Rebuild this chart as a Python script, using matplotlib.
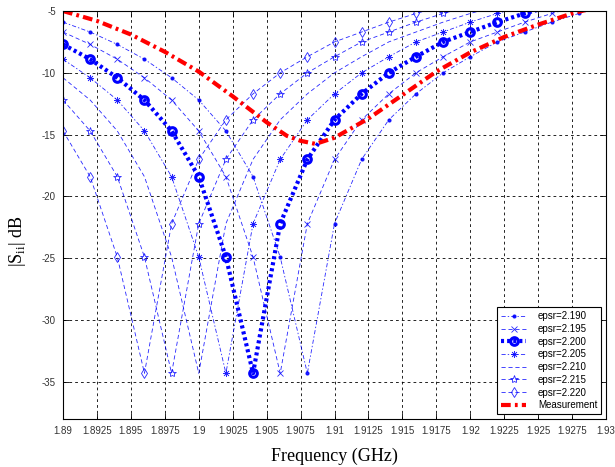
import matplotlib
matplotlib.use("Agg")
import matplotlib.pyplot as plt

# frequency grid of the simulations (GHz)
freq = [1.890, 1.892, 1.894, 1.896, 1.898, 1.900, 1.902, 1.904, 1.906, 1.908, 1.910,
        1.912, 1.914, 1.916, 1.918, 1.920, 1.922, 1.924, 1.926, 1.928, 1.930]

# simulated |S11| in dB for each epsr
s_2190 = [-5.9, -6.7, -7.7, -8.9, -10.4, -12.2, -14.7, -18.4, -24.9, -34.3, -22.2,
          -17.0, -13.8, -11.7, -10.0, -8.7, -7.5, -6.7, -5.9, -5.2, -4.6]
s_2195 = [-6.7, -7.7, -8.9, -10.4, -12.2, -14.7, -18.4, -24.9, -34.3, -22.2, -17.0,
          -13.8, -11.7, -10.0, -8.7, -7.5, -6.7, -5.9, -5.2, -4.6, -4.1]
s_2200 = [-7.7, -8.9, -10.4, -12.2, -14.7, -18.4, -24.9, -34.3, -22.2, -17.0, -13.8,
          -11.7, -10.0, -8.7, -7.5, -6.7, -5.9, -5.2, -4.6, -4.1, -3.6]
s_2205 = [-8.9, -10.4, -12.2, -14.7, -18.4, -24.9, -34.3, -22.2, -17.0, -13.8, -11.7,
          -10.0, -8.7, -7.5, -6.7, -5.9, -5.2, -4.6, -4.1, -3.6, -3.2]
s_2210 = [-10.4, -12.2, -14.7, -18.4, -24.9, -34.3, -22.2, -17.0, -13.8, -11.7, -10.0,
          -8.7, -7.5, -6.7, -5.9, -5.2, -4.6, -4.1, -3.6, -3.2, -2.8]
s_2215 = [-12.2, -14.7, -18.4, -24.9, -34.3, -22.2, -17.0, -13.8, -11.7, -10.0, -8.7,
          -7.5, -6.7, -5.9, -5.2, -4.6, -4.1, -3.6, -3.2, -2.8, -2.5]
s_2220 = [-14.7, -18.4, -24.9, -34.3, -22.2, -17.0, -13.8, -11.7, -10.0, -8.7, -7.5,
          -6.7, -5.9, -5.2, -4.6, -4.1, -3.6, -3.2, -2.8, -2.5, -2.2]

# measured curve
meas_f = [1.8900, 1.8925, 1.8950, 1.8975, 1.9000, 1.9025, 1.9050, 1.9065, 1.9075,
          1.9086, 1.9100, 1.9125, 1.9150, 1.9175, 1.9200, 1.9225, 1.9250, 1.9275, 1.9300]
meas_db = [-5.0, -5.8, -6.9, -8.3, -9.9, -11.9, -14.0, -15.1, -15.5,
           -15.75, -15.25, -13.7, -11.8, -9.9, -8.35, -7.1, -6.1, -5.2, -4.5]

xtick_vals = [1.89, 1.8925, 1.895, 1.8975, 1.9, 1.9025, 1.905, 1.9075, 1.91,
              1.9125, 1.915, 1.9175, 1.92, 1.9225, 1.925, 1.9275, 1.93]
xtick_labels = ['1.89', '1.8925', '1.895', '1.8975', '1.9', '1.9025', '1.905', '1.9075', '1.91',
                '1.9125', '1.915', '1.9175', '1.92', '1.9225', '1.925', '1.9275', '1.93']
ytick_vals = [-35, -30, -25, -20, -15, -10, -5]
ytick_labels = ['-35', '-30', '-25', '-20', '-15', '-10', '-5']

plt.rcParams['lines.scale_dashes'] = False
plt.rcParams['font.family'] = ['Liberation Sans', 'DejaVu Sans']
plt.rcParams['mathtext.fontset'] = 'custom'
plt.rcParams['mathtext.rm'] = 'Liberation Serif'

fig = plt.figure(figsize=(6.15, 4.67), dpi=100)
ax = fig.add_axes([63 / 615, 1 - 419 / 467, 543 / 615, 408 / 467])

thin = dict(color='blue', lw=0.6, alpha=0.85)
ax.plot(freq, s_2190, marker='.', ms=4, dashes=(3, 1.5, 1, 1.5), label='epsr=2.190', **thin)
ax.plot(freq, s_2195, marker='x', ms=4, mew=0.6, dashes=(3, 2), label='epsr=2.195', **thin)
ax.plot(freq, s_2200, color='blue', lw=3, dashes=(2.2, 2.2), marker='o', ms=5.5, mew=2.2,
        mfc='none', label='epsr=2.200')
ax.plot(freq, s_2205, marker=(8, 2, 0), ms=5, mew=0.5, dashes=(3, 1.5, 1, 1.5),
        label='epsr=2.205', **thin)
ax.plot(freq, s_2210, dashes=(3, 2), label='epsr=2.210', **thin)
ax.plot(freq, s_2215, marker='*', ms=6, mew=0.6, mfc='none', dashes=(3, 2), label='epsr=2.215', **thin)
ax.plot(freq, s_2220, marker='d', ms=5, mew=0.6, mfc='none', dashes=(3, 2), label='epsr=2.220', **thin)
ax.plot(meas_f, meas_db, color='red', lw=3, dashes=(7, 3, 2, 3), label='Measurement')

ax.set_xlim(1.89, 1.93)
ax.set_ylim(-38, -5)
ax.set_xticks(xtick_vals)
ax.set_xticklabels(xtick_labels)
ax.set_yticks(ytick_vals)
ax.set_yticklabels(ytick_labels)
ax.tick_params(direction='in', length=4, width=0.6, top=True, right=True,
               labelsize=7, labelcolor='#333333', pad=5)
ax.grid(True, color='black', lw=0.6, dashes=(2, 2.2))
for sp in ax.spines.values():
    sp.set_linewidth(0.8)

ax.set_xlabel('Frequency (GHz)', family='Liberation Serif', fontsize=13)
ax.xaxis.set_label_coords(0.5, -0.07)
ax.set_ylabel(r'$|\mathrm{S}_{\mathrm{ii}}|$ dB', family='Liberation Serif', fontsize=13)
ax.yaxis.set_label_coords(-0.064, 0.436)

leg = ax.legend(loc='lower right', fontsize=7, fancybox=False, framealpha=1,
                edgecolor='black', borderaxespad=0.5, labelspacing=0.28,
                handlelength=2.6, handletextpad=1.2, borderpad=0.4)
leg.get_frame().set_linewidth(0.8)

fig.savefig('out.png', dpi=100)
